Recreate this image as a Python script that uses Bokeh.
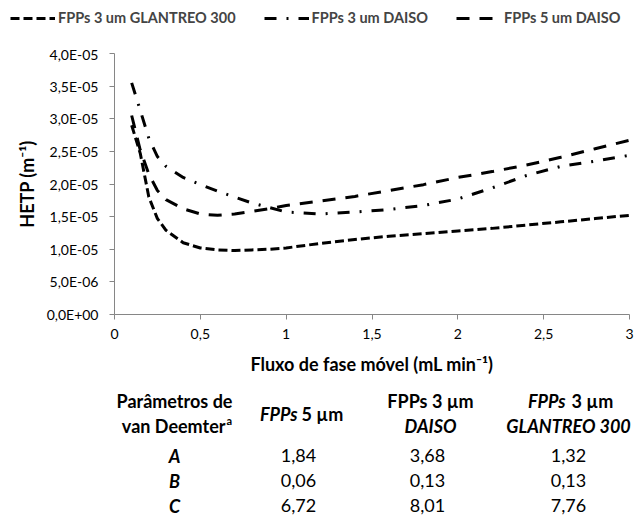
from bokeh.plotting import figure
from bokeh.models import (Legend, LegendItem, FixedTicker, CustomJSTickFormatter, Range1d)
from bokeh.layouts import column
from bokeh.embed import file_html
from bokeh.resources import INLINE
from bokeh.core.properties import value

# ---------------- data ----------------
flow = [0.1, 0.15, 0.2, 0.25, 0.3, 0.4, 0.5, 0.6, 0.7, 0.8, 0.9, 1.0,
        1.2, 1.4, 1.6, 1.8, 2.0, 2.2, 2.4, 2.6, 2.8, 3.0]
hetp_glantreo = [2.90e-5, 2.47e-5, 1.80e-5, 1.47e-5, 1.29e-5, 1.10e-5, 1.02e-5, 0.99e-5,
                 0.98e-5, 0.99e-5, 1.00e-5, 1.02e-5, 1.09e-5, 1.15e-5, 1.20e-5, 1.24e-5,
                 1.28e-5, 1.32e-5, 1.37e-5, 1.42e-5, 1.47e-5, 1.52e-5]
hetp_daiso3 = [3.55e-5, 3.13e-5, 2.70e-5, 2.42e-5, 2.27e-5, 2.10e-5, 1.99e-5, 1.89e-5,
               1.80e-5, 1.71e-5, 1.64e-5, 1.57e-5, 1.54e-5, 1.57e-5, 1.61e-5, 1.67e-5,
               1.77e-5, 1.94e-5, 2.13e-5, 2.27e-5, 2.35e-5, 2.44e-5]
hetp_daiso5 = [3.05e-5, 2.52e-5, 2.15e-5, 1.90e-5, 1.76e-5, 1.62e-5, 1.54e-5, 1.52e-5,
               1.54e-5, 1.58e-5, 1.62e-5, 1.67e-5, 1.74e-5, 1.81e-5, 1.90e-5, 1.99e-5,
               2.10e-5, 2.19e-5, 2.29e-5, 2.41e-5, 2.54e-5, 2.67e-5]
series = [hetp_glantreo, hetp_daiso3, hetp_daiso5]
series_labels = ["FPPs 3 um GLANTREO 300", "FPPs 3 um DAISO", "FPPs 5 um DAISO"]
series_dash = ["9 4", "12 10 2 10", "13 10"]

x_ticks = [0, 0.5, 1, 1.5, 2, 2.5, 3]
y_ticks = [0, 0.5e-5, 1.0e-5, 1.5e-5, 2.0e-5, 2.5e-5, 3.0e-5, 3.5e-5, 4.0e-5]

table_params = ["A", "B", "C"]
table_fpp5 = [1.84, 0.06, 6.72]
table_daiso3 = [3.68, 0.13, 8.01]
table_glantreo = [1.32, 0.13, 7.76]

# ---------------- style ----------------
FONT = "Lato"
AXIS_GRAY = "#868686"
W = 635
H_LEG, H_PLOT, H_TAB = 45, 335, 137

# ---------------- legend strip ----------------
# a strip whose visible y-range lies far above the data, so only the legend shows
lf = figure(width=W, height=H_LEG, x_range=Range1d(0, 3), y_range=Range1d(1, 2),
            output_backend="svg", toolbar_location=None, min_border=0,
            x_axis_location=None, y_axis_location=None)
lf.frame_align = False
lf.xgrid.visible = False
lf.ygrid.visible = False
lf.outline_line_color = None
legend_renderers = [lf.line(flow, s, line_color="black", line_width=3, line_dash=d)
                    for s, d in zip(series, series_dash)]
legend = Legend(items=[LegendItem(label=lab, renderers=[r])
                       for lab, r in zip(series_labels, legend_renderers)],
                location=(10, 19), orientation="horizontal",
                glyph_width=45, glyph_height=16, label_standoff=3, spacing=28,
                padding=0, margin=0, border_line_color=None, background_fill_alpha=0,
                label_text_font=FONT, label_text_font_style="bold",
                label_text_font_size="14.5px", label_height=16)
lf.add_layout(legend, "center")

# ---------------- main plot ----------------
p = figure(width=W, height=H_PLOT, x_range=Range1d(0, 3), y_range=Range1d(0, 4e-5),
           output_backend="svg", toolbar_location=None,
           min_border_left=114, min_border_right=6, min_border_top=8, min_border_bottom=66)
p.frame_align = False
p.xgrid.visible = False
p.ygrid.visible = False
p.outline_line_color = None

for s, d in zip(series, series_dash):
    p.line(flow, s, line_color="black", line_width=3, line_dash=d)

for ax in (p.xaxis[0], p.yaxis[0]):
    ax.axis_line_color = AXIS_GRAY
    ax.major_tick_line_color = AXIS_GRAY
    ax.minor_tick_line_color = None
    ax.major_tick_in = 0
    ax.major_tick_out = 5
    ax.major_label_text_font = FONT
    ax.major_label_text_font_size = "14px"
    ax.major_label_text_color = "black"
    ax.axis_label_text_font = FONT
    ax.axis_label_text_font_style = "bold"
    ax.axis_label_text_font_size = "18px"
    ax.axis_label_text_color = "black"

p.xaxis.ticker = FixedTicker(ticks=x_ticks)
p.xaxis.formatter = CustomJSTickFormatter(code="return String(tick).replace('.', ',');")
p.xaxis.major_label_standoff = 9
p.xaxis.axis_label = "Fluxo de fase móvel (mL min⁻¹)"
p.xaxis.axis_label_standoff = 11

p.yaxis.ticker = FixedTicker(ticks=y_ticks)
p.yaxis.formatter = CustomJSTickFormatter(code="""
const parts = tick.toExponential(1).split('e');
const m = parts[0].replace('.', ',');
let e = parseInt(parts[1]);
const sign = e < 0 ? '-' : '+';
e = Math.abs(e);
return m + 'E' + sign + (e < 10 ? '0' + e : String(e));
""")
p.yaxis.major_label_standoff = 11
p.yaxis.axis_label = "HETP (m⁻¹)"
p.yaxis.axis_label_standoff = 6

# ---------------- table ----------------
t = figure(width=W, height=H_TAB, x_range=Range1d(0, W), y_range=Range1d(H_TAB, 0),
           output_backend="svg", toolbar_location=None, min_border=0,
           x_axis_location=None, y_axis_location=None)
t.frame_align = False
t.xgrid.visible = False
t.ygrid.visible = False
t.outline_line_color = None

common = dict(text_font=value(FONT), text_color="black", text_baseline="middle")
FS = "18px"

def fmt(v):
    return f"{v:.2f}".replace(".", ",")

y_h1, y_h2, y_hs = 20, 45, 33
row_y = [75, 100, 125]
cx = [174, 298, 427, 568]

t.text(x=[cx[0], cx[2] + 3], y=[y_h1, y_h1], text=["Parâmetros de", "FPPs 3 µm"],
       text_font_size=FS, text_font_style="bold", text_align="center", **common)
t.text(x=[cx[0] + 51], y=[y_h2], text=["van Deemter"], text_font_size=FS,
       text_font_style="bold", text_align="right", **common)
t.text(x=[cx[0] + 52], y=[y_h2 - 5], text=["a"], text_font_size="11px",
       text_font_style="bold", text_align="left", **common)
t.text(x=[cx[1] - 1, cx[3] - 3], y=[y_hs, y_h1], text=["FPPs", "FPPs"], text_font_size=FS,
       text_font_style="bold italic", text_align="right", **common)
t.text(x=[cx[1] + 3, cx[3] + 3], y=[y_hs, y_h1], text=["5 µm", "3 µm"], text_font_size=FS,
       text_font_style="bold", text_align="left", **common)
t.text(x=[cx[2] + 3, cx[3]], y=[y_h2, y_h2], text=["DAISO", "GLANTREO 300"], text_font_size=FS,
       text_font_style="bold italic", text_align="center", **common)

t.text(x=[cx[0]] * 3, y=row_y, text=table_params, text_font_size=FS,
       text_font_style="bold italic", text_align="center", **common)
t.text(x=[cx[1]] * 3, y=row_y, text=[fmt(v) for v in table_fpp5], text_font_size=FS,
       text_align="center", **common)
t.text(x=[cx[2]] * 3, y=row_y, text=[fmt(v) for v in table_daiso3], text_font_size=FS,
       text_align="center", **common)
t.text(x=[cx[3]] * 3, y=row_y, text=[fmt(v) for v in table_glantreo], text_font_size=FS,
       text_align="center", **common)

layout = column(lf, p, t, spacing=0)
open("out.html", "w").write(file_html(layout, INLINE))
